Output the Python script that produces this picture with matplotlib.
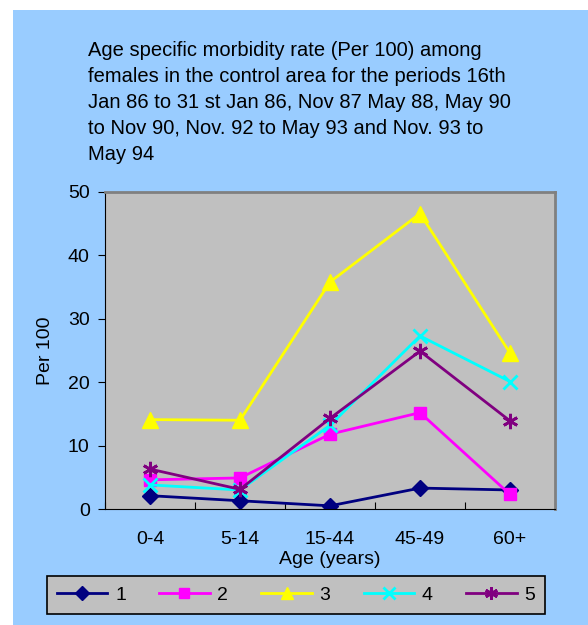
#Importing basic libraries
import matplotlib.pyplot as plt
from matplotlib.patches import Rectangle

#Chart data
ages = ['0-4', '5-14', '15-44', '45-49', '60+']
s1 = [2.1, 1.3, 0.5, 3.3, 3.0]
s2 = [4.6, 4.9, 11.8, 15.2, 2.3]
s3 = [14.1, 14.0, 35.8, 46.6, 24.6]
s4 = [3.8, 3.0, 13.2, 27.3, 20.1]
s5 = [6.3, 3.1, 14.3, 24.9, 13.9]
series_names = ['1', '2', '3', '4', '5']

title = ('Age specific morbidity rate (Per 100) among\n'
         'females in the control area for the periods 16th\n'
         'Jan 86 to 31 st Jan 86, Nov 87 May 88, May 90\n'
         'to Nov 90, Nov. 92 to May 93 and Nov. 93 to\n'
         'May 94')

plt.rcParams['font.family'] = ['Liberation Sans', 'DejaVu Sans']
fs = 14

fig = plt.figure(figsize=(5.88, 6.25), dpi=100)
fig.patch.set_facecolor('white')
#Blue chart background
fig.patches.append(Rectangle((13/588, 0), 1 - 13/588, 1 - 10/625,
                             transform=fig.transFigure, facecolor='#99CCFF',
                             edgecolor='none', zorder=-10))

ax = fig.add_axes([105/588, 1 - 509/625, 450/588, 317/625])
ax.set_facecolor('#C0C0C0')

x = range(len(ages))
ax.plot(x, s1, color='#000080', marker='D', markersize=8, lw=2, label=series_names[0])
ax.plot(x, s2, color='#FF00FF', marker='s', markersize=9, lw=2, label=series_names[1])
ax.plot(x, s3, color='#FFFF00', marker='^', markersize=11, lw=2, label=series_names[2])
ax.plot(x, s4, color='#00FFFF', marker='x', markersize=10, mew=2, lw=2, label=series_names[3])
ax.plot(x, s5, color='#800080', marker=(6, 2, 0), markersize=11, mew=2, lw=2, label=series_names[4])

ax.set_xlim(-0.5, 4.5)
ax.set_ylim(0, 50)
ax.set_yticks([0, 10, 20, 30, 40, 50])
ax.set_xticks([-0.5, 0.5, 1.5, 2.5, 3.5, 4.5])
ax.set_xticklabels([])
ax.set_xticks(list(x), minor=True)
ax.set_xticklabels(ages, minor=True, fontsize=fs)
ax.tick_params(axis='x', which='minor', length=0, pad=16)
ax.tick_params(axis='x', which='major', direction='in', length=5)
ax.tick_params(axis='y', direction='out', length=5, labelsize=fs, pad=6)

for side in ['top', 'right']:
    ax.spines[side].set_color('#808080')
    ax.spines[side].set_linewidth(2)
for side in ['left', 'bottom']:
    ax.spines[side].set_color('black')

ax.set_xlabel('Age (years)', fontsize=fs, labelpad=2)
ax.set_ylabel('Per 100', fontsize=fs, labelpad=10)

fig.text(88/588, 1 - 41/625, title, fontsize=14.5, va='top', ha='left',
         linespacing=1.47)

leg = fig.legend(loc='center', bbox_to_anchor=(296/588, 1 - 595/625), ncol=5,
                 fontsize=fs, facecolor='#C0C0C0', edgecolor='black',
                 fancybox=False, framealpha=1, handlelength=2.6,
                 handletextpad=0.4, columnspacing=1.7, borderpad=0.5,
                 markerscale=0.85)
leg.get_frame().set_linewidth(1.2)

plt.savefig('out.png', dpi=100)
